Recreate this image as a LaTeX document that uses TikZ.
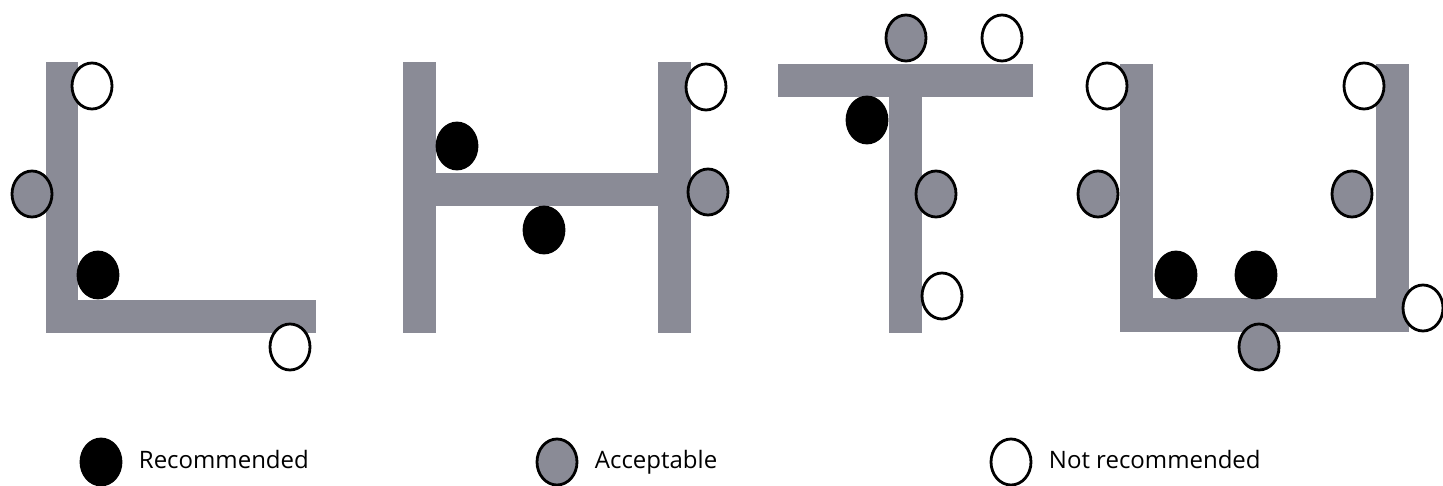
\documentclass[tikz,border=0pt]{standalone}
\usepackage{fontspec}
\setmainfont{Open Sans}
\usepackage{tikz}
\usetikzlibrary{shapes.geometric,positioning}
\definecolor{cCinza}{HTML}{8A8B96}

\begin{document}
\begin{tikzpicture}[
  x=1pt,y=-1pt,
  bar/.style={fill=cCinza,draw=none},
  rec/.style={ellipse,draw=black,fill=black,line width=2.8pt,
              minimum width=40pt,minimum height=46pt,inner sep=0pt},
  acc/.style={ellipse,draw=black,fill=cCinza,line width=2.8pt,
              minimum width=40pt,minimum height=46pt,inner sep=0pt},
  nrec/.style={ellipse,draw=black,fill=white,line width=2.8pt,
              minimum width=40pt,minimum height=46pt,inner sep=0pt},
  lgd/.style={font=\fontsize{24}{28}\selectfont,text=black,
              text height=17.5pt,text depth=5pt}
]
\useasboundingbox (0,0) rectangle (1443,486);

% ---- letra L
\fill[bar] (46,62) rectangle (78,333);
\fill[bar] (46,300) rectangle (316,333);
\node[nrec] (nL1) at (92,86)  {};
\node[acc]  (aL1) at (32,194) {};
\node[rec]  (rL1) at (98,275) {};
\node[nrec] (nL2) at (290,347) {};

% ---- letra H
\fill[bar] (403,62) rectangle (436,333);
\fill[bar] (658,62) rectangle (691,333);
\fill[bar] (436,173) rectangle (658,206);
\node[rec]  (rH1) at (457,146) {};
\node[rec]  (rH2) at (544,230) {};
\node[nrec] (nH1) at (706,87)  {};
\node[acc]  (aH1) at (708,192) {};

% ---- letra T
\fill[bar] (778,64) rectangle (1033,97);
\fill[bar] (889,97) rectangle (922,333);
\node[acc]  (aT1) at (906,38)  {};
\node[nrec] (nT1) at (1002,38) {};
\node[rec]  (rT1) at (867,120) {};
\node[acc]  (aT2) at (936,194) {};
\node[nrec] (nT2) at (942,296) {};

% ---- letra U
\fill[bar] (1120,64) rectangle (1153,332);
\fill[bar] (1376,64) rectangle (1409,332);
\fill[bar] (1120,298) rectangle (1409,332);
\node[nrec] (nU1) at (1107,86)  {};
\node[acc]  (aU1) at (1098,194) {};
\node[rec]  (rU1) at (1176,275) {};
\node[rec]  (rU2) at (1256,275) {};
\node[acc]  (aU2) at (1259,347) {};
\node[nrec] (nU2) at (1364,86)  {};
\node[acc]  (aU3) at (1352,194) {};
\node[nrec] (nU3) at (1423,308) {};

% ---- legenda
\node[rec]  (rLg) at (101,462)  {};
\node[acc]  (aLg) at (557,462)  {};
\node[nrec] (nLg) at (1011,462) {};
\node[lgd,right=13pt of rLg] (tRec) {Recommended};
\node[lgd,right=13pt of aLg] (tAcc) {Acceptable};
\node[lgd,right=13pt of nLg] (tNrec) {Not recommended};
\end{tikzpicture}
\end{document}
